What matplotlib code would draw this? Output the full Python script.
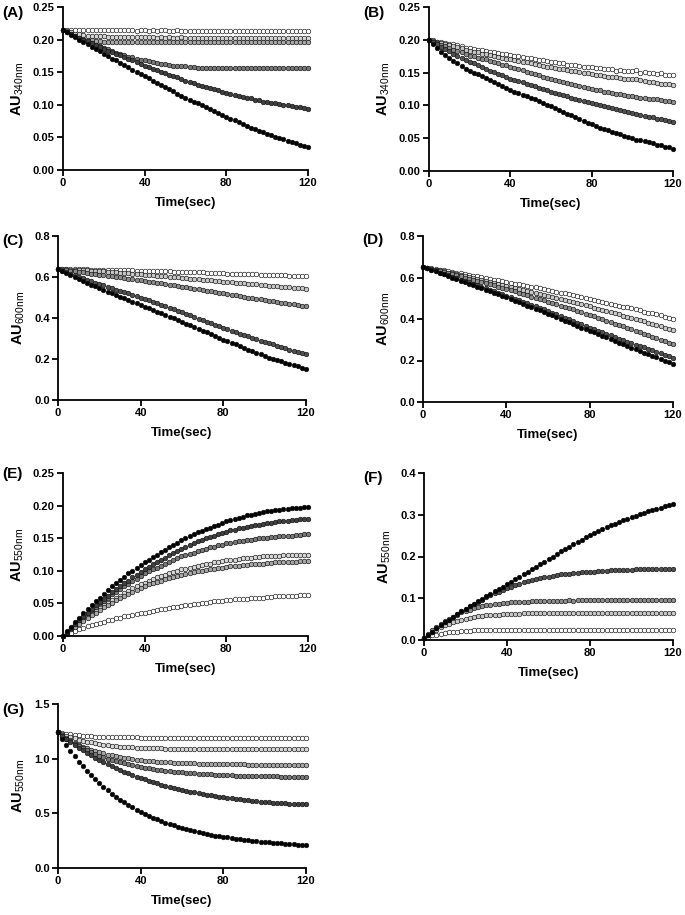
import numpy as np
import matplotlib
matplotlib.use('Agg')
import matplotlib.pyplot as plt

plt.rcParams['font.family'] = ['Liberation Sans', 'DejaVu Sans']
plt.rcParams['mathtext.fontset'] = 'custom'
plt.rcParams['mathtext.rm'] = 'Liberation Sans'

# sampling times (every 2 s)
time_sec = np.arange(0, 121, 2)

# ---------------- panel A (AU340nm) ----------------
a1 = [0.215, 0.215, 0.215, 0.214, 0.214, 0.214, 0.214, 0.214, 0.214, 0.214,
      0.214, 0.214, 0.214, 0.214, 0.214, 0.214, 0.214, 0.214, 0.213, 0.214,
      0.214, 0.213, 0.214, 0.213, 0.214, 0.214, 0.213, 0.213, 0.214, 0.213,
      0.213, 0.213, 0.213, 0.213, 0.213, 0.213, 0.213, 0.213, 0.213, 0.213,
      0.213, 0.213, 0.213, 0.213, 0.213, 0.213, 0.213, 0.213, 0.213, 0.213,
      0.213, 0.213, 0.213, 0.213, 0.213, 0.213, 0.213, 0.213, 0.213, 0.213,
      0.213]
a2 = [0.215, 0.213, 0.211, 0.209, 0.208, 0.207, 0.206, 0.206, 0.205, 0.205,
      0.205, 0.204, 0.204, 0.204, 0.204, 0.204, 0.204, 0.204, 0.204, 0.204,
      0.204, 0.204, 0.204, 0.203, 0.204, 0.203, 0.204, 0.203, 0.203, 0.204,
      0.203, 0.203, 0.203, 0.203, 0.203, 0.203, 0.203, 0.203, 0.203, 0.203,
      0.203, 0.203, 0.203, 0.203, 0.203, 0.203, 0.203, 0.203, 0.203, 0.203,
      0.203, 0.203, 0.203, 0.203, 0.203, 0.203, 0.203, 0.203, 0.203, 0.203,
      0.203]
a3 = [0.215, 0.211, 0.208, 0.205, 0.203, 0.201, 0.200, 0.199, 0.198, 0.198,
      0.197, 0.197, 0.197, 0.197, 0.197, 0.197, 0.196, 0.197, 0.196, 0.196,
      0.196, 0.196, 0.196, 0.196, 0.196, 0.196, 0.196, 0.196, 0.196, 0.196,
      0.196, 0.196, 0.196, 0.196, 0.196, 0.196, 0.196, 0.196, 0.196, 0.196,
      0.196, 0.196, 0.196, 0.196, 0.196, 0.196, 0.196, 0.196, 0.196, 0.196,
      0.196, 0.196, 0.196, 0.196, 0.196, 0.196, 0.196, 0.196, 0.196, 0.196,
      0.196]
a4 = [0.215, 0.212, 0.209, 0.206, 0.203, 0.200, 0.197, 0.195, 0.192, 0.190,
      0.187, 0.185, 0.183, 0.180, 0.178, 0.176, 0.174, 0.173, 0.171, 0.169,
      0.168, 0.167, 0.165, 0.164, 0.163, 0.162, 0.161, 0.160, 0.160, 0.159,
      0.159, 0.158, 0.158, 0.157, 0.157, 0.157, 0.157, 0.156, 0.156, 0.156,
      0.156, 0.156, 0.156, 0.156, 0.156, 0.156, 0.156, 0.156, 0.156, 0.156,
      0.156, 0.156, 0.156, 0.156, 0.156, 0.156, 0.156, 0.156, 0.156, 0.156,
      0.156]
a5 = [0.215, 0.212, 0.209, 0.206, 0.203, 0.200, 0.198, 0.195, 0.192, 0.189,
      0.186, 0.183, 0.181, 0.178, 0.176, 0.173, 0.170, 0.168, 0.165, 0.163,
      0.160, 0.158, 0.155, 0.153, 0.151, 0.149, 0.146, 0.144, 0.142, 0.139,
      0.137, 0.135, 0.133, 0.131, 0.129, 0.128, 0.126, 0.124, 0.122, 0.120,
      0.118, 0.117, 0.115, 0.114, 0.112, 0.111, 0.110, 0.108, 0.107, 0.105,
      0.104, 0.103, 0.102, 0.101, 0.100, 0.099, 0.098, 0.097, 0.096, 0.095,
      0.094]
a6 = [0.215, 0.211, 0.207, 0.204, 0.200, 0.196, 0.193, 0.189, 0.185, 0.182,
      0.178, 0.175, 0.171, 0.168, 0.164, 0.161, 0.158, 0.154, 0.151, 0.147,
      0.144, 0.141, 0.137, 0.134, 0.131, 0.127, 0.124, 0.121, 0.117, 0.114,
      0.111, 0.108, 0.105, 0.102, 0.099, 0.096, 0.093, 0.090, 0.087, 0.084,
      0.081, 0.078, 0.076, 0.073, 0.071, 0.068, 0.065, 0.063, 0.060, 0.058,
      0.055, 0.053, 0.051, 0.049, 0.047, 0.045, 0.043, 0.041, 0.039, 0.037,
      0.035]

# ---------------- panel B (AU340nm) ----------------
b1 = [0.200, 0.199, 0.197, 0.197, 0.195, 0.194, 0.193, 0.192, 0.190, 0.188,
      0.187, 0.186, 0.185, 0.185, 0.183, 0.182, 0.182, 0.180, 0.179, 0.179,
      0.177, 0.176, 0.175, 0.174, 0.172, 0.172, 0.170, 0.169, 0.169, 0.167,
      0.166, 0.166, 0.164, 0.164, 0.162, 0.161, 0.162, 0.160, 0.159, 0.159,
      0.158, 0.157, 0.157, 0.155, 0.155, 0.156, 0.153, 0.154, 0.152, 0.153,
      0.152, 0.154, 0.150, 0.151, 0.149, 0.150, 0.148, 0.149, 0.147, 0.147,
      0.146]
b2 = [0.200, 0.198, 0.197, 0.195, 0.193, 0.192, 0.190, 0.189, 0.187, 0.185,
      0.183, 0.182, 0.181, 0.179, 0.178, 0.177, 0.175, 0.174, 0.173, 0.171,
      0.170, 0.169, 0.168, 0.166, 0.166, 0.164, 0.163, 0.162, 0.160, 0.159,
      0.158, 0.157, 0.156, 0.155, 0.154, 0.153, 0.152, 0.151, 0.150, 0.149,
      0.148, 0.147, 0.147, 0.145, 0.144, 0.143, 0.144, 0.142, 0.141, 0.140,
      0.140, 0.141, 0.138, 0.137, 0.136, 0.135, 0.134, 0.133, 0.133, 0.132,
      0.131]
b3 = [0.200, 0.197, 0.195, 0.192, 0.190, 0.188, 0.185, 0.183, 0.181, 0.178,
      0.176, 0.175, 0.173, 0.171, 0.170, 0.168, 0.166, 0.164, 0.162, 0.161,
      0.159, 0.157, 0.155, 0.154, 0.151, 0.150, 0.148, 0.146, 0.144, 0.142,
      0.140, 0.139, 0.137, 0.136, 0.134, 0.133, 0.131, 0.129, 0.128, 0.126,
      0.125, 0.124, 0.123, 0.121, 0.120, 0.119, 0.118, 0.117, 0.116, 0.115,
      0.114, 0.113, 0.112, 0.111, 0.110, 0.110, 0.109, 0.108, 0.107, 0.106,
      0.105]
b4 = [0.200, 0.196, 0.193, 0.189, 0.186, 0.183, 0.179, 0.176, 0.172, 0.169,
      0.166, 0.164, 0.161, 0.158, 0.156, 0.153, 0.151, 0.148, 0.146, 0.143,
      0.141, 0.139, 0.137, 0.135, 0.133, 0.131, 0.129, 0.127, 0.125, 0.123,
      0.121, 0.119, 0.117, 0.116, 0.114, 0.112, 0.110, 0.108, 0.107, 0.105,
      0.103, 0.102, 0.100, 0.099, 0.097, 0.096, 0.094, 0.093, 0.091, 0.090,
      0.088, 0.087, 0.086, 0.084, 0.083, 0.082, 0.080, 0.079, 0.078, 0.076,
      0.075]
b5 = [0.200, 0.193, 0.187, 0.182, 0.177, 0.172, 0.168, 0.164, 0.160, 0.156,
      0.153, 0.150, 0.148, 0.145, 0.142, 0.139, 0.136, 0.133, 0.130, 0.127,
      0.124, 0.121, 0.119, 0.116, 0.114, 0.111, 0.109, 0.106, 0.104, 0.101,
      0.099, 0.096, 0.093, 0.090, 0.087, 0.085, 0.082, 0.079, 0.076, 0.073,
      0.071, 0.069, 0.066, 0.064, 0.062, 0.060, 0.058, 0.056, 0.054, 0.052,
      0.050, 0.048, 0.047, 0.045, 0.044, 0.042, 0.040, 0.039, 0.037, 0.036,
      0.034]

# ---------------- panel C (AU600nm) ----------------
c1 = [0.638, 0.638, 0.638, 0.638, 0.637, 0.637, 0.637, 0.637, 0.636, 0.636,
      0.636, 0.635, 0.635, 0.634, 0.634, 0.633, 0.633, 0.632, 0.632, 0.631,
      0.631, 0.630, 0.630, 0.629, 0.629, 0.628, 0.627, 0.627, 0.626, 0.626,
      0.625, 0.624, 0.624, 0.623, 0.622, 0.622, 0.621, 0.620, 0.620, 0.619,
      0.618, 0.617, 0.617, 0.616, 0.615, 0.615, 0.614, 0.613, 0.613, 0.612,
      0.611, 0.611, 0.610, 0.609, 0.609, 0.608, 0.607, 0.607, 0.606, 0.606,
      0.605]
c2 = [0.638, 0.637, 0.637, 0.636, 0.635, 0.634, 0.633, 0.632, 0.631, 0.629,
      0.628, 0.627, 0.625, 0.624, 0.622, 0.621, 0.619, 0.618, 0.616, 0.615,
      0.613, 0.611, 0.610, 0.608, 0.606, 0.605, 0.603, 0.601, 0.599, 0.598,
      0.596, 0.594, 0.592, 0.591, 0.589, 0.587, 0.585, 0.583, 0.582, 0.580,
      0.578, 0.576, 0.574, 0.573, 0.571, 0.569, 0.567, 0.565, 0.564, 0.562,
      0.560, 0.558, 0.557, 0.555, 0.553, 0.552, 0.550, 0.548, 0.546, 0.545,
      0.543]
c3 = [0.638, 0.636, 0.634, 0.631, 0.628, 0.626, 0.623, 0.620, 0.617, 0.615,
      0.612, 0.609, 0.606, 0.604, 0.601, 0.598, 0.595, 0.592, 0.590, 0.587,
      0.584, 0.581, 0.578, 0.575, 0.572, 0.569, 0.565, 0.562, 0.559, 0.556,
      0.553, 0.550, 0.546, 0.543, 0.540, 0.536, 0.533, 0.530, 0.526, 0.523,
      0.520, 0.517, 0.513, 0.510, 0.507, 0.504, 0.500, 0.497, 0.494, 0.491,
      0.488, 0.485, 0.482, 0.479, 0.475, 0.472, 0.469, 0.466, 0.463, 0.460,
      0.457]
c4 = [0.638, 0.631, 0.623, 0.616, 0.609, 0.602, 0.594, 0.587, 0.580, 0.573,
      0.566, 0.559, 0.553, 0.546, 0.539, 0.533, 0.526, 0.520, 0.513, 0.507,
      0.500, 0.493, 0.486, 0.478, 0.471, 0.464, 0.457, 0.450, 0.442, 0.435,
      0.428, 0.420, 0.413, 0.405, 0.397, 0.390, 0.382, 0.375, 0.367, 0.360,
      0.352, 0.345, 0.338, 0.331, 0.324, 0.318, 0.311, 0.304, 0.297, 0.290,
      0.283, 0.277, 0.271, 0.265, 0.259, 0.253, 0.246, 0.240, 0.234, 0.228,
      0.222]
c5 = [0.638, 0.628, 0.619, 0.610, 0.600, 0.591, 0.582, 0.573, 0.563, 0.554,
      0.545, 0.537, 0.529, 0.520, 0.512, 0.504, 0.496, 0.488, 0.479, 0.471,
      0.463, 0.455, 0.447, 0.439, 0.431, 0.423, 0.414, 0.406, 0.398, 0.390,
      0.382, 0.373, 0.365, 0.356, 0.347, 0.339, 0.330, 0.321, 0.313, 0.304,
      0.295, 0.287, 0.279, 0.271, 0.263, 0.255, 0.246, 0.238, 0.230, 0.222,
      0.214, 0.207, 0.201, 0.195, 0.188, 0.182, 0.176, 0.170, 0.164, 0.158,
      0.152]

# ---------------- panel D (AU600nm) ----------------
d1 = [0.652, 0.648, 0.645, 0.641, 0.638, 0.634, 0.630, 0.627, 0.623, 0.620,
      0.616, 0.612, 0.609, 0.605, 0.601, 0.598, 0.594, 0.590, 0.587, 0.583,
      0.579, 0.575, 0.571, 0.567, 0.563, 0.560, 0.556, 0.552, 0.548, 0.544,
      0.540, 0.536, 0.531, 0.527, 0.523, 0.519, 0.514, 0.510, 0.506, 0.501,
      0.497, 0.492, 0.488, 0.483, 0.479, 0.474, 0.469, 0.465, 0.460, 0.456,
      0.451, 0.446, 0.441, 0.436, 0.431, 0.427, 0.422, 0.417, 0.412, 0.407,
      0.402]
d2 = [0.652, 0.647, 0.643, 0.638, 0.634, 0.629, 0.624, 0.620, 0.615, 0.611,
      0.606, 0.601, 0.597, 0.592, 0.588, 0.583, 0.578, 0.574, 0.569, 0.565,
      0.560, 0.555, 0.550, 0.546, 0.541, 0.536, 0.531, 0.526, 0.522, 0.517,
      0.512, 0.507, 0.502, 0.497, 0.492, 0.487, 0.481, 0.476, 0.471, 0.466,
      0.461, 0.455, 0.450, 0.444, 0.439, 0.433, 0.427, 0.422, 0.416, 0.411,
      0.405, 0.399, 0.393, 0.388, 0.382, 0.376, 0.370, 0.364, 0.359, 0.353,
      0.347]
d3 = [0.652, 0.647, 0.642, 0.636, 0.631, 0.626, 0.621, 0.616, 0.610, 0.605,
      0.600, 0.595, 0.589, 0.584, 0.578, 0.573, 0.567, 0.562, 0.556, 0.551,
      0.545, 0.539, 0.533, 0.527, 0.521, 0.515, 0.508, 0.502, 0.496, 0.490,
      0.484, 0.478, 0.471, 0.465, 0.458, 0.452, 0.446, 0.439, 0.433, 0.426,
      0.420, 0.413, 0.406, 0.399, 0.392, 0.385, 0.378, 0.371, 0.364, 0.357,
      0.350, 0.343, 0.336, 0.328, 0.321, 0.314, 0.307, 0.300, 0.292, 0.285,
      0.278]
d4 = [0.652, 0.645, 0.638, 0.631, 0.624, 0.617, 0.610, 0.604, 0.597, 0.590,
      0.583, 0.576, 0.569, 0.562, 0.555, 0.548, 0.541, 0.534, 0.527, 0.520,
      0.513, 0.506, 0.498, 0.491, 0.483, 0.476, 0.468, 0.461, 0.453, 0.446,
      0.438, 0.430, 0.422, 0.414, 0.406, 0.398, 0.390, 0.382, 0.374, 0.366,
      0.358, 0.351, 0.343, 0.336, 0.328, 0.321, 0.314, 0.306, 0.299, 0.291,
      0.284, 0.277, 0.270, 0.263, 0.256, 0.249, 0.241, 0.234, 0.227, 0.220,
      0.213]
d5 = [0.652, 0.645, 0.637, 0.630, 0.622, 0.615, 0.608, 0.600, 0.593, 0.585,
      0.578, 0.571, 0.563, 0.556, 0.549, 0.542, 0.534, 0.527, 0.520, 0.512,
      0.505, 0.497, 0.489, 0.481, 0.473, 0.465, 0.457, 0.449, 0.441, 0.433,
      0.425, 0.417, 0.409, 0.400, 0.392, 0.384, 0.376, 0.368, 0.359, 0.351,
      0.343, 0.335, 0.327, 0.319, 0.311, 0.303, 0.294, 0.286, 0.278, 0.270,
      0.262, 0.254, 0.246, 0.238, 0.231, 0.223, 0.215, 0.207, 0.199, 0.192,
      0.184]

# ---------------- panel E (AU550nm) ----------------
e1 = [0.000, 0.007, 0.014, 0.021, 0.028, 0.035, 0.041, 0.047, 0.053, 0.059,
      0.065, 0.070, 0.076, 0.081, 0.086, 0.091, 0.096, 0.100, 0.105, 0.109,
      0.113, 0.117, 0.121, 0.125, 0.129, 0.132, 0.136, 0.140, 0.143, 0.147,
      0.150, 0.153, 0.156, 0.159, 0.161, 0.164, 0.166, 0.169, 0.171, 0.174,
      0.176, 0.178, 0.180, 0.181, 0.183, 0.185, 0.186, 0.187, 0.189, 0.190,
      0.191, 0.192, 0.193, 0.194, 0.195, 0.195, 0.196, 0.197, 0.197, 0.198,
      0.198]
e2 = [0.000, 0.006, 0.012, 0.019, 0.025, 0.031, 0.036, 0.042, 0.047, 0.052,
      0.057, 0.062, 0.067, 0.072, 0.076, 0.081, 0.085, 0.090, 0.094, 0.098,
      0.102, 0.106, 0.110, 0.113, 0.117, 0.120, 0.124, 0.127, 0.130, 0.134,
      0.137, 0.140, 0.142, 0.145, 0.147, 0.150, 0.152, 0.154, 0.156, 0.158,
      0.160, 0.162, 0.163, 0.165, 0.166, 0.167, 0.169, 0.170, 0.171, 0.172,
      0.173, 0.174, 0.175, 0.176, 0.176, 0.177, 0.178, 0.178, 0.179, 0.179,
      0.180]
e3 = [0.000, 0.006, 0.012, 0.018, 0.024, 0.029, 0.035, 0.040, 0.045, 0.050,
      0.054, 0.059, 0.064, 0.068, 0.072, 0.076, 0.080, 0.084, 0.088, 0.092,
      0.096, 0.099, 0.102, 0.105, 0.108, 0.111, 0.114, 0.117, 0.119, 0.122,
      0.124, 0.126, 0.128, 0.130, 0.132, 0.134, 0.136, 0.137, 0.139, 0.140,
      0.142, 0.143, 0.144, 0.145, 0.146, 0.147, 0.148, 0.149, 0.150, 0.150,
      0.151, 0.152, 0.152, 0.153, 0.153, 0.154, 0.154, 0.155, 0.155, 0.156,
      0.156]
e4 = [0.000, 0.005, 0.010, 0.015, 0.020, 0.025, 0.030, 0.035, 0.039, 0.043,
      0.047, 0.051, 0.055, 0.059, 0.062, 0.066, 0.069, 0.073, 0.076, 0.079,
      0.082, 0.085, 0.087, 0.090, 0.092, 0.094, 0.096, 0.098, 0.100, 0.102,
      0.103, 0.105, 0.106, 0.108, 0.109, 0.110, 0.111, 0.113, 0.114, 0.115,
      0.116, 0.117, 0.117, 0.118, 0.119, 0.119, 0.120, 0.121, 0.121, 0.122,
      0.122, 0.123, 0.123, 0.123, 0.124, 0.124, 0.124, 0.124, 0.125, 0.125,
      0.125]
e5 = [0.000, 0.005, 0.010, 0.014, 0.019, 0.023, 0.028, 0.032, 0.036, 0.040,
      0.044, 0.048, 0.051, 0.055, 0.058, 0.062, 0.065, 0.068, 0.071, 0.074,
      0.077, 0.079, 0.081, 0.083, 0.085, 0.087, 0.089, 0.091, 0.092, 0.094,
      0.095, 0.096, 0.098, 0.099, 0.100, 0.101, 0.102, 0.103, 0.104, 0.105,
      0.106, 0.107, 0.107, 0.108, 0.109, 0.109, 0.110, 0.110, 0.111, 0.111,
      0.112, 0.112, 0.113, 0.113, 0.113, 0.114, 0.114, 0.114, 0.115, 0.115,
      0.115]
e6 = [0.000, 0.003, 0.005, 0.008, 0.010, 0.012, 0.015, 0.017, 0.019, 0.020,
      0.022, 0.024, 0.025, 0.027, 0.028, 0.030, 0.031, 0.032, 0.034, 0.035,
      0.036, 0.037, 0.038, 0.040, 0.041, 0.042, 0.043, 0.044, 0.045, 0.046,
      0.047, 0.048, 0.049, 0.049, 0.050, 0.051, 0.052, 0.053, 0.053, 0.054,
      0.055, 0.055, 0.056, 0.056, 0.057, 0.057, 0.058, 0.058, 0.059, 0.059,
      0.060, 0.060, 0.061, 0.061, 0.061, 0.062, 0.062, 0.062, 0.063, 0.063,
      0.063]

# ---------------- panel F (AU550nm) ----------------
f1 = [0.005, 0.013, 0.020, 0.028, 0.035, 0.042, 0.049, 0.056, 0.062, 0.069,
      0.075, 0.081, 0.087, 0.093, 0.099, 0.105, 0.111, 0.117, 0.122, 0.128,
      0.134, 0.140, 0.146, 0.152, 0.158, 0.164, 0.170, 0.176, 0.182, 0.188,
      0.194, 0.200, 0.206, 0.212, 0.218, 0.223, 0.229, 0.235, 0.240, 0.246,
      0.251, 0.256, 0.261, 0.266, 0.270, 0.275, 0.279, 0.283, 0.287, 0.291,
      0.295, 0.298, 0.302, 0.305, 0.308, 0.311, 0.314, 0.317, 0.320, 0.323,
      0.326]
f2 = [0.005, 0.013, 0.020, 0.028, 0.035, 0.042, 0.049, 0.056, 0.062, 0.069,
      0.075, 0.081, 0.087, 0.092, 0.097, 0.102, 0.107, 0.112, 0.116, 0.120,
      0.124, 0.128, 0.131, 0.135, 0.138, 0.141, 0.143, 0.146, 0.148, 0.150,
      0.152, 0.154, 0.155, 0.157, 0.158, 0.159, 0.160, 0.161, 0.162, 0.163,
      0.164, 0.164, 0.165, 0.166, 0.166, 0.167, 0.167, 0.167, 0.168, 0.168,
      0.168, 0.169, 0.169, 0.169, 0.169, 0.169, 0.170, 0.170, 0.170, 0.170,
      0.170]
f3 = [0.005, 0.015, 0.024, 0.032, 0.039, 0.045, 0.051, 0.056, 0.061, 0.066,
      0.070, 0.073, 0.076, 0.079, 0.081, 0.083, 0.085, 0.086, 0.087, 0.088,
      0.089, 0.090, 0.091, 0.091, 0.092, 0.092, 0.093, 0.093, 0.093, 0.094,
      0.094, 0.094, 0.094, 0.094, 0.094, 0.095, 0.094, 0.095, 0.095, 0.095,
      0.095, 0.095, 0.095, 0.095, 0.095, 0.095, 0.095, 0.095, 0.095, 0.095,
      0.095, 0.095, 0.095, 0.095, 0.095, 0.095, 0.095, 0.095, 0.095, 0.095,
      0.095]
f4 = [0.005, 0.012, 0.019, 0.025, 0.030, 0.035, 0.039, 0.043, 0.046, 0.049,
      0.051, 0.053, 0.055, 0.057, 0.058, 0.059, 0.060, 0.061, 0.061, 0.062,
      0.062, 0.063, 0.063, 0.063, 0.064, 0.064, 0.064, 0.064, 0.064, 0.065,
      0.065, 0.065, 0.065, 0.065, 0.065, 0.065, 0.065, 0.065, 0.065, 0.065,
      0.065, 0.065, 0.065, 0.065, 0.065, 0.065, 0.065, 0.065, 0.065, 0.065,
      0.065, 0.065, 0.065, 0.065, 0.065, 0.065, 0.065, 0.065, 0.065, 0.065,
      0.065]
f5 = [0.005, 0.008, 0.011, 0.013, 0.015, 0.017, 0.018, 0.019, 0.020, 0.021,
      0.022, 0.022, 0.023, 0.023, 0.023, 0.024, 0.024, 0.024, 0.024, 0.024,
      0.025, 0.025, 0.025, 0.025, 0.025, 0.025, 0.025, 0.025, 0.025, 0.025,
      0.025, 0.025, 0.025, 0.025, 0.025, 0.025, 0.025, 0.025, 0.025, 0.025,
      0.025, 0.025, 0.025, 0.025, 0.025, 0.025, 0.025, 0.025, 0.025, 0.025,
      0.025, 0.025, 0.025, 0.025, 0.025, 0.025, 0.025, 0.025, 0.025, 0.025,
      0.025]

# ---------------- panel G (AU550nm) ----------------
g1 = [1.240, 1.235, 1.230, 1.225, 1.220, 1.215, 1.211, 1.208, 1.205, 1.202,
      1.200, 1.199, 1.198, 1.197, 1.196, 1.195, 1.195, 1.194, 1.194, 1.194,
      1.193, 1.193, 1.193, 1.193, 1.193, 1.193, 1.193, 1.193, 1.193, 1.193,
      1.193, 1.193, 1.193, 1.193, 1.193, 1.193, 1.193, 1.193, 1.192, 1.192,
      1.192, 1.192, 1.192, 1.192, 1.192, 1.192, 1.192, 1.192, 1.192, 1.192,
      1.192, 1.192, 1.192, 1.192, 1.192, 1.192, 1.192, 1.192, 1.192, 1.192,
      1.192]
g2 = [1.240, 1.225, 1.211, 1.198, 1.186, 1.175, 1.165, 1.156, 1.148, 1.141,
      1.135, 1.129, 1.124, 1.119, 1.115, 1.111, 1.108, 1.105, 1.103, 1.101,
      1.099, 1.097, 1.096, 1.095, 1.094, 1.093, 1.092, 1.091, 1.091, 1.090,
      1.090, 1.089, 1.089, 1.089, 1.088, 1.088, 1.088, 1.088, 1.087, 1.087,
      1.087, 1.087, 1.087, 1.086, 1.086, 1.086, 1.086, 1.086, 1.086, 1.086,
      1.085, 1.085, 1.085, 1.085, 1.085, 1.085, 1.085, 1.085, 1.085, 1.085,
      1.085]
g3 = [1.240, 1.213, 1.189, 1.167, 1.146, 1.128, 1.111, 1.096, 1.082, 1.070,
      1.058, 1.048, 1.038, 1.030, 1.022, 1.015, 1.008, 1.002, 0.997, 0.992,
      0.987, 0.983, 0.980, 0.976, 0.973, 0.970, 0.968, 0.966, 0.964, 0.962,
      0.960, 0.959, 0.957, 0.956, 0.955, 0.954, 0.953, 0.952, 0.951, 0.950,
      0.950, 0.949, 0.948, 0.948, 0.947, 0.947, 0.946, 0.946, 0.945, 0.945,
      0.945, 0.944, 0.944, 0.944, 0.943, 0.943, 0.943, 0.943, 0.942, 0.942,
      0.942]
g4 = [1.240, 1.209, 1.182, 1.158, 1.135, 1.113, 1.093, 1.075, 1.057, 1.041,
      1.026, 1.013, 1.000, 0.988, 0.976, 0.966, 0.956, 0.947, 0.939, 0.931,
      0.924, 0.917, 0.911, 0.905, 0.900, 0.895, 0.890, 0.886, 0.882, 0.878,
      0.874, 0.871, 0.868, 0.865, 0.863, 0.860, 0.858, 0.856, 0.854, 0.852,
      0.850, 0.849, 0.847, 0.846, 0.845, 0.843, 0.842, 0.841, 0.840, 0.839,
      0.839, 0.838, 0.837, 0.837, 0.836, 0.835, 0.835, 0.834, 0.834, 0.833,
      0.833]
g5 = [1.240, 1.210, 1.181, 1.153, 1.126, 1.100, 1.076, 1.052, 1.029, 1.007,
      0.985, 0.966, 0.947, 0.929, 0.912, 0.895, 0.880, 0.865, 0.850, 0.836,
      0.822, 0.810, 0.798, 0.786, 0.774, 0.763, 0.753, 0.743, 0.734, 0.724,
      0.715, 0.707, 0.699, 0.691, 0.684, 0.677, 0.670, 0.664, 0.658, 0.652,
      0.646, 0.641, 0.636, 0.631, 0.627, 0.622, 0.618, 0.614, 0.611, 0.607,
      0.604, 0.601, 0.598, 0.596, 0.593, 0.591, 0.589, 0.587, 0.585, 0.583,
      0.581]
g6 = [1.240, 1.180, 1.124, 1.071, 1.021, 0.974, 0.929, 0.887, 0.847, 0.810,
      0.774, 0.741, 0.709, 0.680, 0.652, 0.625, 0.600, 0.577, 0.554, 0.533,
      0.513, 0.495, 0.477, 0.460, 0.444, 0.430, 0.416, 0.402, 0.390, 0.378,
      0.367, 0.356, 0.346, 0.337, 0.328, 0.320, 0.312, 0.304, 0.297, 0.291,
      0.285, 0.279, 0.273, 0.268, 0.263, 0.258, 0.254, 0.250, 0.246, 0.242,
      0.239, 0.235, 0.232, 0.229, 0.226, 0.223, 0.220, 0.217, 0.214, 0.211,
      0.208]

# marker fills, light -> dark
fills_6 = ['white', '#d8d8d8', '#a8a8a8', '#787878', '#404040', 'black']
fills_5 = ['white', '#c8c8c8', '#8c8c8c', '#505050', 'black']

W, H = 685, 915
fig = plt.figure(figsize=(W / 100, H / 100), dpi=100)


def add_panel(letter, box, series, fills, ymax, ystep, yfmt, wavelength, label_xy):
    left, top, right, bottom = box
    ax = fig.add_axes([left / W, 1 - bottom / H, (right - left) / W, (bottom - top) / H])
    for vals, fc in zip(series, fills):
        ax.plot(time_sec, vals, 'o', ls='none', ms=3.3, mfc=fc, mec='#111111',
                mew=0.45, clip_on=False)
    ax.set_xlim(0, 120)
    ax.set_ylim(0, ymax)
    ax.set_xticks([0, 40, 80, 120])
    ax.set_yticks(np.arange(0, ymax + ystep / 2, ystep))
    ax.yaxis.set_major_formatter(plt.FormatStrFormatter(yfmt))
    for side in ['top', 'right']:
        ax.spines[side].set_visible(False)
    for side in ['left', 'bottom']:
        ax.spines[side].set_linewidth(1.3)
    ax.tick_params(direction='out', length=4, width=1.3, labelsize=8, pad=2)
    for lab in ax.get_xticklabels() + ax.get_yticklabels():
        lab.set_fontweight('bold')
    ax.set_xlabel('Time(sec)', fontsize=9.5, fontweight='bold', labelpad=6)
    ax.set_ylabel('AU$_{\\mathrm{' + wavelength + 'nm}}$', fontsize=10.5,
                  fontweight='bold', labelpad=5)
    fig.text(label_xy[0] / W, 1 - label_xy[1] / H, '(' + letter + ')',
             fontsize=11, fontweight='bold', va='center', ha='left')
    return ax


add_panel('A', (63, 7, 308, 170), [a1, a2, a3, a4, a5, a6], fills_6,
          0.25, 0.05, '%.2f', '340', (2, 13))
add_panel('B', (429, 7, 673, 171), [b1, b2, b3, b4, b5], fills_5,
          0.25, 0.05, '%.2f', '340', (363, 13))
add_panel('C', (58, 236, 306, 400), [c1, c2, c3, c4, c5], fills_5,
          0.8, 0.2, '%.1f', '600', (2, 241))
add_panel('D', (423, 236, 673, 402), [d1, d2, d3, d4, d5], fills_5,
          0.8, 0.2, '%.1f', '600', (362, 240))
add_panel('E', (63, 473, 308, 636), [e6, e4, e5, e3, e2, e1],
          ['white', '#d8d8d8', '#a8a8a8', '#787878', '#404040', 'black'],
          0.25, 0.05, '%.2f', '550', (2, 474))
add_panel('F', (424, 473, 673, 640), [f5, f4, f3, f2, f1], fills_5,
          0.4, 0.1, '%.1f', '550', (363, 478))
add_panel('G', (58, 704, 306, 868), [g1, g2, g3, g4, g5, g6], fills_6,
          1.5, 0.5, '%.1f', '550', (2, 710))

fig.savefig('out.png', dpi=100)
